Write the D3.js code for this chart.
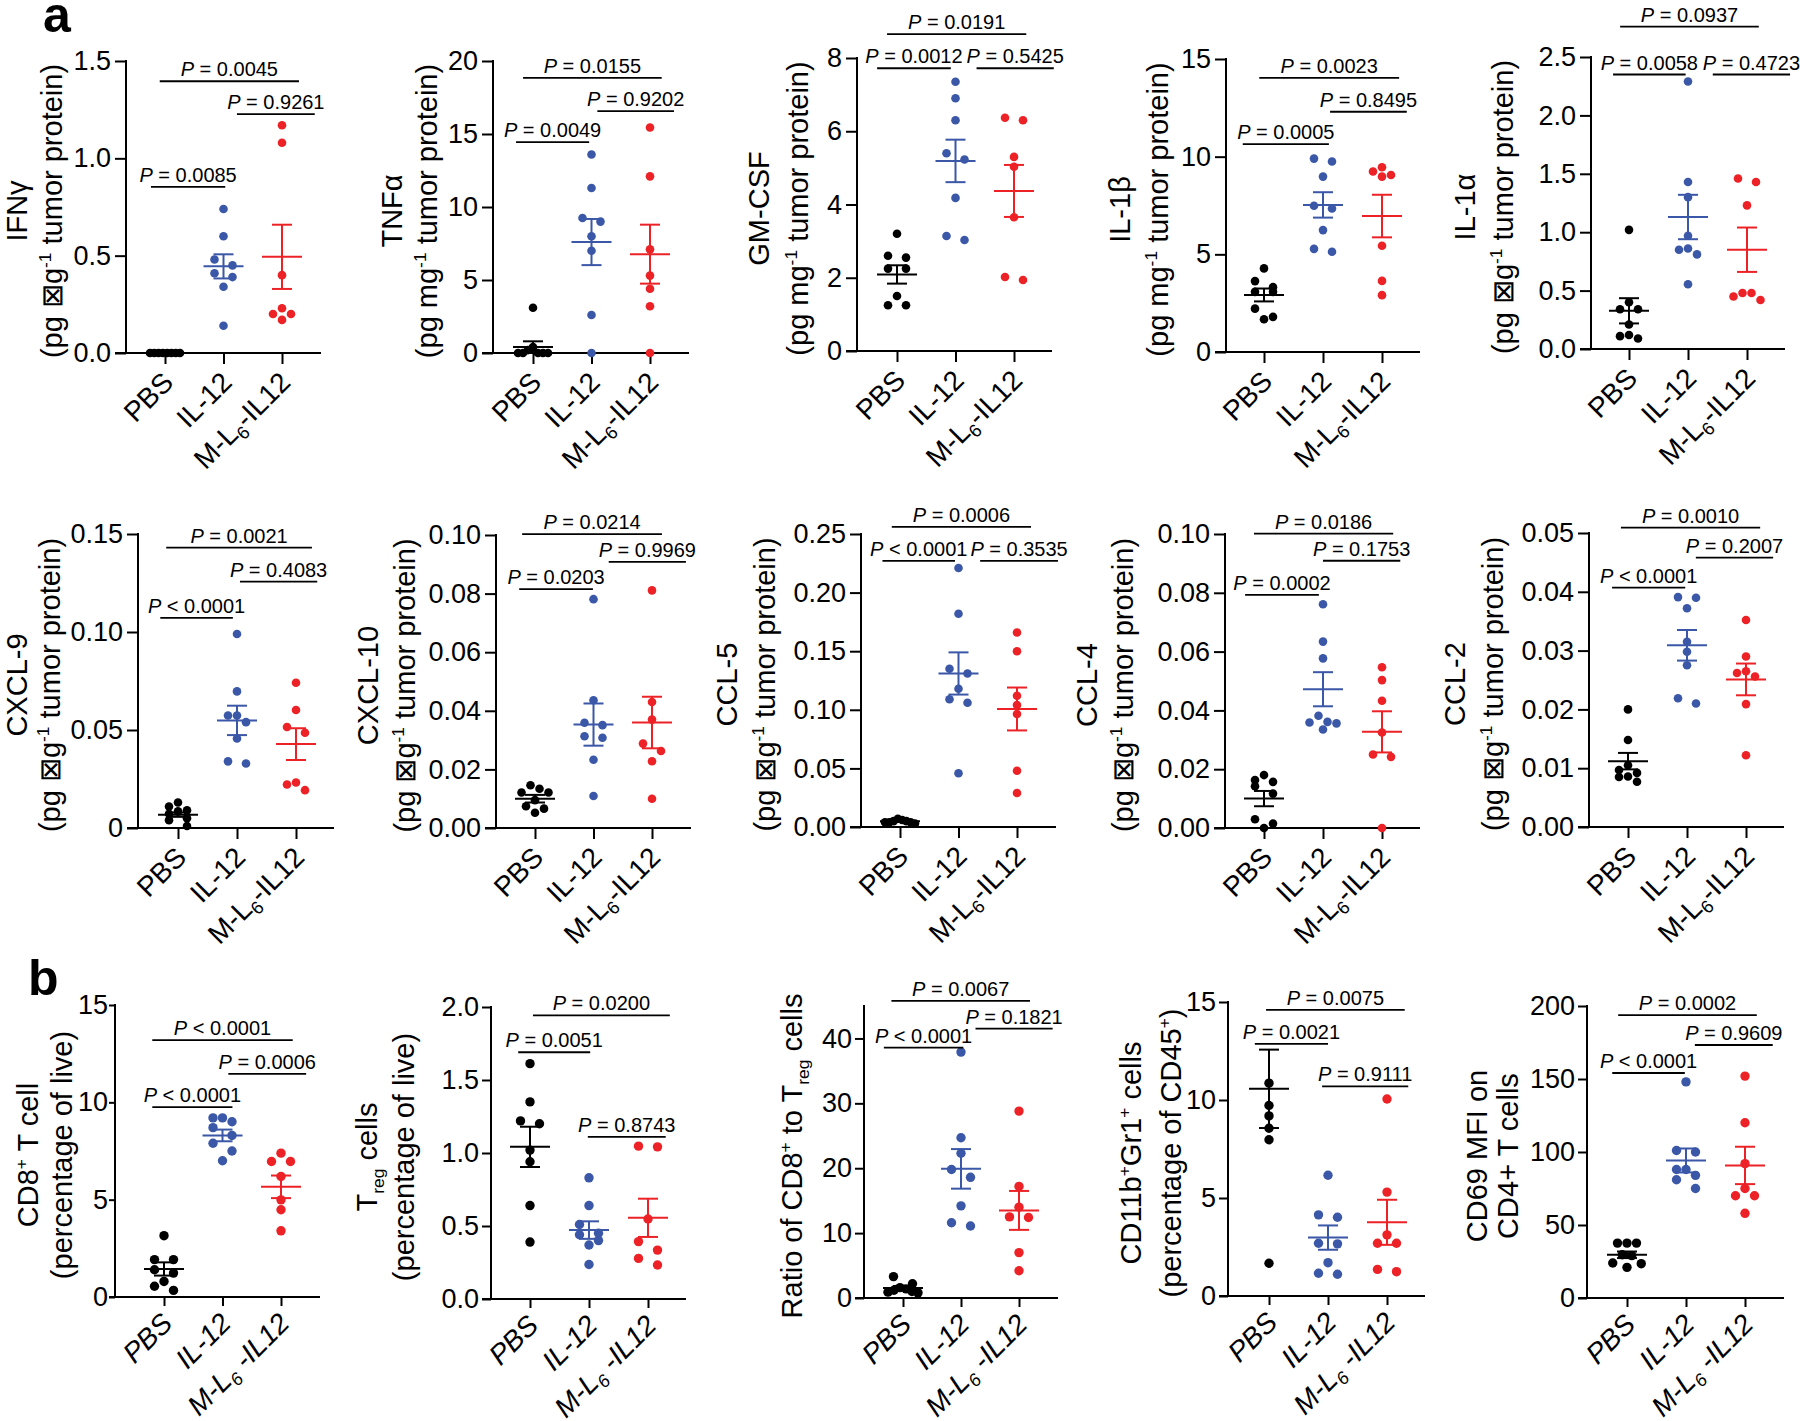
<!DOCTYPE html>
<html><head><meta charset="utf-8">
<script src="https://cdn.jsdelivr.net/npm/d3@7"></script>
<style>body{margin:0;background:#fff} svg{display:block}</style>
</head><body><svg id="c" width="1800" height="1421"></svg>
<script>
const groups = ["PBS", "IL-12", "M-L6-IL12"];
const groupLabelsA = ["PBS", "IL-12", "M-L_{6}-IL12"];
const groupLabelsB = ["PBS", "IL-12", "M-L_{6} -IL12"];
const groupColors = ["#000000", "#3b57a7", "#ec2227"];

// ---- panel a, row 1 ----
const ifngValues = [[0,0,0,0,0,0,0,0],[0.74,0.60,0.48,0.45,0.41,0.39,0.34,0.14],[1.17,1.08,0.40,0.23,0.20,0.20,0.17]];
const ifngMean = [0.0, 0.445, 0.494];
const ifngSem = [0.004, 0.062, 0.165];
const ifngTicks = ["0.0","0.5","1.0","1.5"];
const ifngP = [["=","0.0045",-0.09,2.29,1.396],["=","0.9261",1.23,2.56,1.227],["=","0.0085",-0.24,1.03,0.853]];

const tnfaValues = [[3.1,0.4,0.2,0,0,0,0,0],[13.6,11.3,9.25,9.0,8.0,7.0,2.6,0],[15.45,12.1,7.1,5.3,4.4,3.2,0]];
const tnfaMean = [0.41, 7.6, 6.77];
const tnfaSem = [0.39, 1.58, 2.02];
const tnfaTicks = ["0","5","10","15","20"];
const tnfaP = [["=","0.0155",-0.17,2.2,18.84],["=","0.9202",1.1,2.41,16.57],["=","0.0049",-0.29,0.96,14.45]];

const gmcsfValues = [[3.2,2.6,2.55,2.25,2.25,1.5,1.25,1.25],[7.35,6.9,6.3,5.4,5.23,4.18,3.14,3.03],[6.37,6.3,5.3,5.03,3.65,2.02,1.94]];
const gmcsfMean = [2.09, 5.19, 4.37];
const gmcsfSem = [0.25, 0.58, 0.71];
const gmcsfTicks = ["0","2","4","6","8"];
const gmcsfP = [["=","0.0191",-0.17,2.21,8.65],["=","0.0012",-0.34,0.92,7.72],["=","0.5425",1.36,2.68,7.72]];

const il1bValues = [[4.28,3.63,3.32,3.08,3.08,2.22,1.8,1.68],[9.9,9.75,8.98,7.49,7.35,6.24,5.28,5.13],[9.46,9.24,9.06,8.98,5.44,3.64,2.91]];
const il1bMean = [2.92, 7.53, 6.96];
const il1bSem = [0.33, 0.65, 1.09];
const il1bTicks = ["0","5","10","15"];
const il1bP = [["=","0.0023",-0.08,2.29,14.03],["=","0.8495",1.12,2.42,12.3],["=","0.0005",-0.36,1.1,10.64]];

const il1aValues = [[1.02,0.40,0.34,0.34,0.21,0.12,0.11,0.09],[2.29,1.43,1.30,0.97,0.86,0.85,0.81,0.555],[1.46,1.43,1.23,0.48,0.48,0.45,0.42]];
const il1aMean = [0.327, 1.13, 0.85];
const il1aSem = [0.108, 0.19, 0.19];
const il1aTicks = ["0.0","0.5","1.0","1.5","2.0","2.5"];
const il1aP = [["=","0.0937",-0.15,2.2,2.76],["=","0.0058",-0.27,0.96,2.35],["=","0.4723",1.42,2.73,2.35]];

// ---- panel a, row 2 ----
const cxcl9Values = [[0.013,0.011,0.009,0.0085,0.0073,0.005,0.004,0.001],[0.099,0.0697,0.0574,0.0574,0.054,0.0457,0.034,0.0329],[0.0741,0.0602,0.0515,0.0486,0.0232,0.0222,0.0193]];
const cxcl9Mean = [0.0068, 0.0549, 0.0428];
const cxcl9Sem = [0.0011, 0.0075, 0.0081];
const cxcl9Ticks = ["0","0.05","0.10","0.15"];
const cxcl9P = [["=","0.0021",-0.2,2.27,0.143],["=","0.4083",1.05,2.36,0.1257],["<","0.0001",-0.3,0.93,0.1072]];

const cxcl10Values = [[0.0146,0.0134,0.0121,0.0121,0.0095,0.0074,0.0066,0.0052],[0.0781,0.0436,0.0359,0.0351,0.0313,0.0308,0.0233,0.0109],[0.0811,0.043,0.037,0.0288,0.0263,0.0228,0.01]];
const cxcl10Mean = [0.010, 0.0353, 0.036];
const cxcl10Sem = [0.0013, 0.0072, 0.0088];
const cxcl10Ticks = ["0.00","0.02","0.04","0.06","0.08","0.10"];
const cxcl10P = [["=","0.0214",-0.22,2.17,0.1003],["=","0.9969",1.26,2.58,0.0908],["=","0.0203",-0.27,0.99,0.0815]];

const ccl5Values = [[0.007,0.006,0.005,0.005,0.004,0.004,0.004,0.003],[0.221,0.182,0.135,0.131,0.118,0.109,0.106,0.0458],[0.166,0.150,0.112,0.104,0.0964,0.048,0.029]];
const ccl5Mean = [0.0048, 0.131, 0.1007];
const ccl5Sem = [0.0005, 0.018, 0.0183];
const ccl5Ticks = ["0.00","0.05","0.10","0.15","0.20","0.25"];
const ccl5P = [["=","0.0006",-0.14,2.24,0.256],["<","0.0001",-0.3,0.94,0.227],["=","0.3535",1.37,2.7,0.227]];

const ccl4Values = [[0.018,0.0163,0.0157,0.0142,0.0117,0.003,0.0015,0],[0.0761,0.0634,0.0577,0.0382,0.0361,0.0359,0.0356,0.0335],[0.0547,0.0503,0.0433,0.0325,0.025,0.0242,0]];
const ccl4Mean = [0.01, 0.0472, 0.0327];
const ccl4Sem = [0.0026, 0.0058, 0.007];
const ccl4Ticks = ["0.00","0.02","0.04","0.06","0.08","0.10"];
const ccl4P = [["=","0.0186",-0.17,2.19,0.1001],["=","0.1753",1.0,2.31,0.0909],["=","0.0002",-0.32,0.93,0.0793]];

const ccl2Values = [[0.020,0.0148,0.0105,0.0097,0.0092,0.0086,0.0085,0.0077],[0.0391,0.039,0.0372,0.0315,0.0298,0.0275,0.0219,0.021],[0.0352,0.029,0.0265,0.0262,0.0256,0.0209,0.0122]];
const ccl2Mean = [0.0112, 0.0309, 0.0251];
const ccl2Sem = [0.0014, 0.0026, 0.0027];
const ccl2Ticks = ["0.00","0.01","0.02","0.03","0.04","0.05"];
const ccl2P = [["=","0.0010",-0.12,2.24,0.0509],["=","0.2007",1.15,2.46,0.0458],["<","0.0001",-0.27,0.97,0.0407]];

// ---- panel b ----
const cd8Values = [[3.15,1.92,1.92,1.4,1.23,0.8,0.55,0.34],[9.2,9.2,9.0,8.7,8.3,7.9,7.5,7.0],[7.39,6.96,6.96,6.19,4.99,4.48,3.40]];
const cd8Mean = [1.44, 8.3, 5.66];
const cd8Sem = [0.34, 0.3, 0.58];
const cd8Ticks = ["0","5","10","15"];
const cd8P = [["<","0.0001",-0.2,2.2,13.2],["=","0.0006",1.1,2.43,11.46],["<","0.0001",-0.2,1.17,9.75]];

const tregValues = [[1.612,1.35,1.22,1.2,1.02,0.94,0.64,0.39],[0.83,0.64,0.51,0.45,0.44,0.40,0.37,0.236],[1.047,1.042,0.548,0.393,0.335,0.278,0.233]];
const tregMean = [1.042, 0.472, 0.556];
const tregSem = [0.138, 0.06, 0.131];
const tregTicks = ["0.0","0.5","1.0","1.5","2.0"];
const tregP = [["=","0.0200",0.05,2.37,1.942],["=","0.0051",-0.2,1.02,1.69],["=","0.8743",0.98,2.3,1.11]];

const ratioValues = [[3.3,2.2,1.6,1.4,1.2,1.0,0.9,0.8],[37.9,24.7,22.3,19.8,18.6,14.2,11.6,11.1],[28.8,17.2,14.0,12.5,12.4,7.0,4.2]];
const ratioMean = [1.55, 19.9, 13.5];
const ratioSem = [0.3, 3.05, 3.0];
const ratioTicks = ["0","10","20","30","40"];
const ratioP = [["=","0.0067",-0.2,2.19,45.8],["=","0.1821",1.25,2.58,41.5],["<","0.0001",-0.33,1.04,38.6]];

const cd11bValues = [[10.86,9.72,9.19,8.56,7.97,1.67],[6.16,4.14,4.02,2.69,2.66,1.70,1.16,1.11],[10.05,5.3,3.12,2.69,2.69,1.36,1.24]];
const cd11bMean = [10.57, 2.98, 3.76];
const cd11bSem = [2.0, 0.62, 1.15];
const cd11bTicks = ["0","5","10","15"];
const cd11bP = [["=","0.0075",-0.05,2.3,14.6],["=","0.0021",-0.24,1.0,12.86],["=","0.9111",0.9,2.36,10.7]];

const cd69Values = [[37.6,37.6,37.6,29.6,29.0,24.0,23.5,21.0],[148,101,100,88,88,84,81,75],[152,120,92,75,70,70,58]];
const cd69Mean = [29.6, 94.2, 90.8];
const cd69Sem = [2.25, 8.2, 12.8];
const cd69Ticks = ["0","50","100","150","200"];
const cd69P = [["=","0.0002",-0.15,2.2,193.8],["=","0.9609",1.15,2.47,173.3],["<","0.0001",-0.25,0.98,154.1]];

const ugLine = "(pg ⊠g^{-1} tumor protein)";
const mgLine = "(pg mg^{-1} tumor protein)";

const panels = [
  {v:ifngValues, m:ifngMean, s:ifngSem, t:ifngTicks, max:1.5, p:ifngP, lab:["IFNγ", ugLine]},
  {v:tnfaValues, m:tnfaMean, s:tnfaSem, t:tnfaTicks, max:20, p:tnfaP, lab:["TNFα", mgLine]},
  {v:gmcsfValues, m:gmcsfMean, s:gmcsfSem, t:gmcsfTicks, max:8, p:gmcsfP, lab:["GM-CSF", mgLine]},
  {v:il1bValues, m:il1bMean, s:il1bSem, t:il1bTicks, max:15, p:il1bP, lab:["IL-1β", mgLine]},
  {v:il1aValues, m:il1aMean, s:il1aSem, t:il1aTicks, max:2.5, p:il1aP, lab:["IL-1α", ugLine]},
  {v:cxcl9Values, m:cxcl9Mean, s:cxcl9Sem, t:cxcl9Ticks, max:0.15, p:cxcl9P, lab:["CXCL-9", ugLine]},
  {v:cxcl10Values, m:cxcl10Mean, s:cxcl10Sem, t:cxcl10Ticks, max:0.10, p:cxcl10P, lab:["CXCL-10", ugLine]},
  {v:ccl5Values, m:ccl5Mean, s:ccl5Sem, t:ccl5Ticks, max:0.25, p:ccl5P, lab:["CCL-5", ugLine]},
  {v:ccl4Values, m:ccl4Mean, s:ccl4Sem, t:ccl4Ticks, max:0.10, p:ccl4P, lab:["CCL-4", ugLine]},
  {v:ccl2Values, m:ccl2Mean, s:ccl2Sem, t:ccl2Ticks, max:0.05, p:ccl2P, lab:["CCL-2", ugLine]},
  {v:cd8Values, m:cd8Mean, s:cd8Sem, t:cd8Ticks, max:15, p:cd8P, lab:["CD8^{+} T cell","(percentage of live)"], b:true},
  {v:tregValues, m:tregMean, s:tregSem, t:tregTicks, max:2, p:tregP, lab:["T_{reg} cells","(percentage of live)"], b:true},
  {v:ratioValues, m:ratioMean, s:ratioSem, t:ratioTicks, max:45, p:ratioP, lab:["Ratio of CD8^{+} to T_{reg} cells"], b:true},
  {v:cd11bValues, m:cd11bMean, s:cd11bSem, t:cd11bTicks, max:15, p:cd11bP, lab:["CD11b^{+}Gr1^{+} cells","(percentage of CD45^{+})"], b:true},
  {v:cd69Values, m:cd69Mean, s:cd69Sem, t:cd69Ticks, max:200, p:cd69P, lab:["CD69 MFI on","CD4+ T cells"], b:true},
];

// layout (pixel geometry only)
const layout = [
  {x:126, end:321, top:61, bottom:353, c0:165, c2:282, lab:[-109,-74]},
  {x:493, end:689, top:61, bottom:353, c0:533, c2:650, lab:[-101,-66]},
  {x:857, end:1052, top:58, bottom:351, c0:897, c2:1014, lab:[-98,-59]},
  {x:1226, end:1420, top:59, bottom:352, c0:1264, c2:1382, lab:[-106,-68]},
  {x:1591, end:1785, top:57, bottom:349, c0:1629, c2:1747, lab:[-126,-88]},
  {x:138, end:334, top:534, bottom:828, c0:178, c2:296, lab:[-121,-88]},
  {x:496, end:691, top:535, bottom:828, c0:535, c2:652, lab:[-128,-91]},
  {x:861, end:1056, top:534, bottom:827, c0:900, c2:1017, lab:[-134,-96]},
  {x:1225, end:1420, top:534, bottom:828, c0:1264, c2:1382, lab:[-138,-102]},
  {x:1589, end:1784, top:533, bottom:827, c0:1628, c2:1746, lab:[-134,-96]},
  {x:115, end:320, top:1005, bottom:1297, c0:164, c2:281, lab:[-87,-53], yt:6, pad:1},
  {x:491, end:686, top:1007, bottom:1299, c0:530, c2:648, lab:[-124,-87]},
  {x:864, end:1058, top:1006, bottom:1298, c0:903, c2:1019, lab:[-72]},
  {x:1228, end:1425, top:1002, bottom:1296, c0:1269, c2:1387, lab:[-97,-57]},
  {x:1587, end:1784, top:1006, bottom:1298, c0:1627, c2:1745, lab:[-110,-79]},
];

const FONT = "Arial, 'Liberation Sans', Helvetica, sans-serif";
const svg = d3.select("#c");
svg.append("rect").attr("width", 1800).attr("height", 1421).attr("fill", "#fff");

function addRich(t, str, fs, dy0 = 0, small = 0.6) {
  const parts = str.split(/(\^\{[^}]*\}|_\{[^}]*\})/).filter(s => s.length);
  let back = dy0;
  parts.forEach(p => {
    if (p.startsWith("^{")) {
      t.append("tspan").attr("font-size", fs * small).attr("dy", back - fs * 0.38).text(p.slice(2, -1));
      back = fs * 0.38;
    } else if (p.startsWith("_{")) {
      t.append("tspan").attr("font-size", fs * small).attr("dy", back + fs * 0.22).text(p.slice(2, -1));
      back = -fs * 0.22;
    } else {
      t.append("tspan").attr("dy", back).text(p);
      back = 0;
    }
  });
}

function swarm(vals, y, d, maxSpan) {
  const pts = vals.map(v => ({v, py: y(v)})).sort((a, b) => a.py - b.py);
  const rows = [];
  pts.forEach(p => {
    const r = rows[rows.length - 1];
    if (r && p.py - r[0].py < d * 0.95) r.push(p); else rows.push([p]);
  });
  rows.forEach(r => {
    const n = r.length;
    let offs = n === 1 ? [0] : n === 2 ? [-d, d] : r.map((_, j) => (j - (n - 1) / 2) * d);
    const span = d3.max(offs) - d3.min(offs);
    if (span > maxSpan) offs = offs.map(o => o * maxSpan / span);
    const order = offs.slice().sort((a, b) => Math.abs(a) - Math.abs(b) || a - b);
    r.forEach((p, j) => p.dx = order[j]);
  });
  return pts;
}

panels.forEach((spec, k) => {
  const L = layout[k];
  const g = svg.append("g");
  const y = d3.scaleLinear().domain([0, spec.max]).range([L.bottom, L.top]);
  const x = d3.scalePoint().domain(groups).range([L.c0, L.c2]);
  const step = x.step();
  const xi = i => L.c0 + i * step;
  const y0 = y(0);
  const tl = spec.b ? 9 : 11;
  const ytl = L.yt !== undefined ? L.yt : tl;
  const pad = L.pad !== undefined ? L.pad : (spec.b ? 3 : 4);

  // y axis
  const ya = g.append("g").attr("transform", `translate(${L.x},0)`)
    .call(d3.axisLeft(y).tickValues(spec.t.map(Number)).tickFormat((d, i) => spec.t[i])
      .tickSize(ytl).tickSizeOuter(0).tickPadding(pad));
  ya.select(".domain").remove();
  ya.selectAll(".tick line").attr("stroke", "#000").attr("stroke-width", 2);
  ya.selectAll(".tick text").attr("font-size", 27).attr("font-family", FONT).attr("fill", "#000");
  g.append("line").attr("x1", L.x).attr("x2", L.x).attr("y1", y(spec.max) - 1).attr("y2", y0 + 1)
    .attr("stroke", "#000").attr("stroke-width", 2);

  // x axis
  const xa = g.append("g").attr("transform", `translate(0,${y0})`)
    .call(d3.axisBottom(x).tickSize(tl).tickSizeOuter(0).tickFormat(""));
  xa.select(".domain").remove();
  xa.selectAll(".tick line").attr("stroke", "#000").attr("stroke-width", 2);
  g.append("line").attr("x1", L.x - ytl).attr("x2", L.end).attr("y1", y0).attr("y2", y0)
    .attr("stroke", "#000").attr("stroke-width", 2);

  const labs = spec.b ? groupLabelsB : groupLabelsA;
  groups.forEach((gName, i) => {
    const t = g.append("text").attr("text-anchor", "end").attr("font-size", 28).attr("font-family", FONT)
      .attr("font-style", spec.b ? "italic" : "normal")
      .attr("transform", `translate(${x(gName) + 10},${y0 + (spec.b ? 28 : 31)}) rotate(-45)`);
    addRich(t, labs[i], 28, 0, 0.65);
  });

  // dots
  const r = spec.b ? 4.7 : 4.3;
  spec.v.forEach((vals, i) => {
    const pts = swarm(vals, y, spec.b ? 9.5 : 9, 30);
    g.selectAll(null).data(pts).enter().append("circle")
      .attr("cx", p => x(groups[i]) + p.dx).attr("cy", p => y(p.v)).attr("r", r)
      .attr("fill", groupColors[i]);
  });

  // mean +/- SEM
  spec.m.forEach((mv, i) => {
    const cx = x(groups[i]);
    const col = groupColors[i];
    const up = y(mv + spec.s[i]), lo = y(Math.max(0, mv - spec.s[i])), my = y(mv);
    const eb = g.append("g").attr("stroke", col).attr("stroke-width", 2).attr("fill", "none");
    eb.append("line").attr("x1", cx - 20).attr("x2", cx + 20).attr("y1", my).attr("y2", my);
    eb.append("line").attr("x1", cx).attr("x2", cx).attr("y1", up).attr("y2", lo);
    eb.append("line").attr("x1", cx - 10).attr("x2", cx + 10).attr("y1", up).attr("y2", up);
    eb.append("line").attr("x1", cx - 10).attr("x2", cx + 10).attr("y1", lo).attr("y2", lo);
  });

  // P-value brackets
  spec.p.forEach(([op, val, i1, i2, yv]) => {
    const xa1 = xi(i1), xa2 = xi(i2), yy = y(yv);
    g.append("line").attr("x1", xa1).attr("x2", xa2).attr("y1", yy).attr("y2", yy)
      .attr("stroke", "#000").attr("stroke-width", 1.8);
    const t = g.append("text").attr("x", (xa1 + xa2) / 2).attr("y", yy - 5)
      .attr("text-anchor", "middle").attr("font-size", 20).attr("font-family", FONT);
    t.append("tspan").attr("font-style", "italic").text("P");
    t.append("tspan").text(` ${op} ${val}`);
  });

  // y labels
  const cy = (L.top + L.bottom) / 2 + 4;
  const fsL = 29;
  spec.lab.forEach((line, j) => {
    const t = g.append("text").attr("text-anchor", "middle").attr("font-size", fsL).attr("font-family", FONT)
      .attr("transform", `translate(${L.x + L.lab[j]},${cy}) rotate(-90)`);
    addRich(t, line, fsL, fsL * 0.35);
  });
});

// panel letters
svg.append("text").attr("x", 43).attr("y", 32).attr("font-size", 50).attr("font-weight", "bold")
  .attr("font-family", FONT).text("a");
svg.append("text").attr("x", 28).attr("y", 995).attr("font-size", 50).attr("font-weight", "bold")
  .attr("font-family", FONT).text("b");
</script></body></html>
